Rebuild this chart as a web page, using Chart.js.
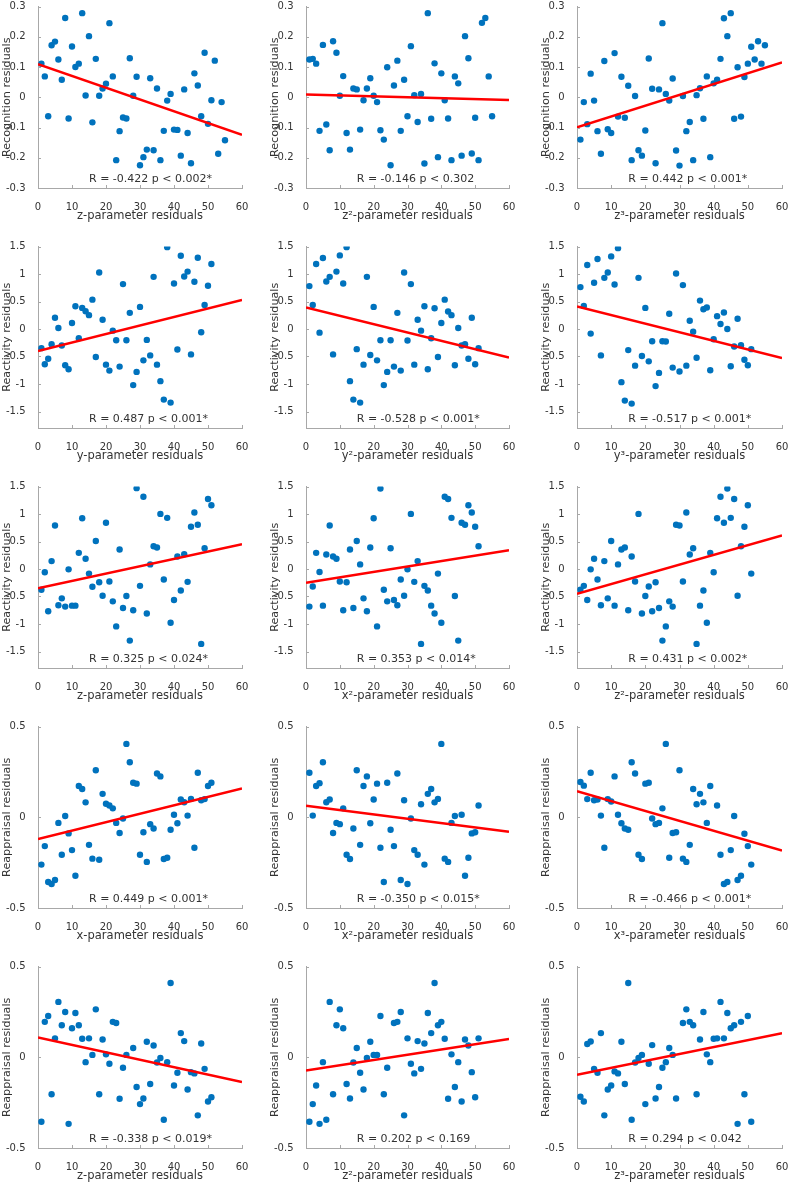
<!DOCTYPE html>
<html>
<head>
<meta charset="utf-8">
<script src="https://cdn.jsdelivr.net/npm/chart.js@4.4.1/dist/chart.umd.min.js"></script>
<style>
  html,body{margin:0;padding:0;background:#fff}
  #wrap{position:relative;width:789px;height:1185px;overflow:hidden}
  #wrap canvas{position:absolute}
</style>
</head>
<body>
<div id="wrap"></div>
<script>
// ---- data ----
const subjects = [1,2,3,4,5,6,7,8,9,10,11,12,13,14,15,16,17,18,19,20,21,22,23,24,25,26,27,28,29,30,
  31,32,33,34,35,36,37,38,39,40,41,42,43,44,45,46,47,48,49,50,51,52,53,54,55];

const xTicks = [0,10,20,30,40,50,60];
const xLim = [0,60];
const yLimRecog = [-0.3,0.3];
const yTicksRecog = [-0.3,-0.2,-0.1,0,0.1,0.2,0.3];
const yLimReact = [-1.8,1.5];
const yTicksReact = [-1.5,-1,-0.5,0,0.5,1,1.5];
const yLimReap = [-0.5,0.5];
const yTicksReap = [-0.5,0,0.5];

// row 1: recognition
const recogZ = [0.111,0.069,-0.063,0.172,0.184,0.125,0.058,0.262,-0.070,0.168,
  0.100,0.111,0.278,0.006,0.202,-0.083,0.127,0.005,0.029,0.045,
  0.245,0.069,-0.208,-0.112,-0.067,-0.070,0.129,0.005,0.068,-0.225,
  -0.198,-0.173,0.063,-0.175,0.029,-0.208,-0.111,-0.011,0.011,-0.107,
  -0.108,-0.193,0.026,-0.118,-0.218,0.079,0.039,-0.063,0.147,-0.088,
  -0.010,0.121,-0.187,-0.016,-0.142];
const recogZ2 = [0.125,0.127,0.111,-0.111,0.173,-0.090,-0.175,0.185,0.147,0.005,
  0.070,-0.118,-0.173,0.029,0.026,-0.107,-0.010,0.029,0.063,0.005,
  -0.016,-0.109,-0.140,0.099,-0.225,0.039,0.121,-0.111,0.058,-0.063,
  0.169,0.007,-0.082,0.011,-0.219,0.278,-0.071,0.112,-0.198,0.079,
  -0.010,-0.070,-0.208,0.069,0.046,-0.193,0.202,0.129,-0.186,-0.068,
  -0.208,0.246,0.262,0.069,-0.063];
const recogZ3 = [-0.140,-0.016,-0.089,0.078,-0.011,-0.112,-0.187,0.120,-0.106,-0.118,
  0.146,-0.064,0.068,-0.068,0.038,-0.208,0.004,-0.175,-0.193,-0.110,
  0.128,0.028,-0.218,0.026,0.245,0.011,-0.011,0.062,-0.176,-0.226,
  0.004,-0.112,-0.082,-0.208,0.007,0.030,-0.071,0.069,-0.198,0.046,
  0.058,0.127,0.261,0.202,0.278,-0.071,0.099,-0.064,0.067,0.111,
  0.167,0.125,0.185,0.111,0.172];

// row 2: reactivity
const reactY = [-0.348,-0.642,-0.540,-0.276,0.204,0.018,-0.300,-0.660,-0.732,0.108,
  0.414,-0.168,0.384,0.324,0.252,0.534,-0.510,1.026,0.168,-0.648,
  -0.756,-0.030,-0.204,-0.684,0.816,-0.204,0.294,-1.020,-0.780,0.402,
  -0.570,-0.198,-0.480,0.948,-0.648,-0.948,-1.284,1.488,-1.338,0.828,
  -0.372,1.332,0.954,1.044,-0.462,0.858,1.296,-0.060,0.438,0.786,
  1.182];
const reactY2 = [0.780,0.438,1.182,-0.066,1.290,0.864,0.948,-0.462,1.044,1.338,
  0.828,1.488,-0.948,-1.284,-0.366,-1.338,-0.648,0.948,-0.474,0.402,
  -0.570,-0.204,-1.020,-0.780,-0.204,-0.684,0.294,-0.756,1.026,-0.210,
  0.816,-0.648,0.168,-0.030,0.414,-0.732,-0.168,0.378,-0.510,0.108,
  0.534,0.318,0.252,-0.660,0.018,-0.300,-0.276,-0.540,0.204,-0.642,
  -0.348];
const reactY3 = [0.762,0.420,1.164,-0.084,0.840,1.272,-0.480,0.930,1.026,1.320,
  0.810,1.470,-0.966,-1.302,-0.384,-1.356,-0.666,0.930,-0.492,0.384,
  -0.588,-0.222,-1.038,-0.798,-0.222,-0.228,0.276,-0.702,1.008,-0.774,
  0.798,-0.666,0.150,-0.048,-0.522,0.516,0.360,0.390,-0.750,-0.186,
  0.234,0.090,0.300,0.000,-0.678,-0.318,0.186,-0.294,-0.558,-0.660,
  -0.366];

// row 3: reactivity
const reactZ = [-0.378,-0.060,-0.768,0.144,0.792,-0.660,-0.534,-0.684,-0.006,-0.666,
  -0.666,0.294,0.924,0.186,-0.084,-0.324,0.510,-0.240,-0.486,0.840,
  -0.228,-0.588,-1.044,0.354,-0.708,-0.492,-1.302,-0.750,1.470,-0.306,
  1.314,-0.810,0.084,0.414,0.390,1.002,-0.192,0.930,-0.978,-0.564,
  0.228,-0.390,0.270,-0.234,0.768,1.026,0.804,-1.362,0.378,1.272,
  1.158];
const reactX2 = [-0.684,-0.318,0.294,-0.054,-0.666,0.264,0.792,0.228,0.186,-0.228,
  -0.750,-0.240,0.354,-0.708,0.510,0.084,-0.534,-0.768,0.390,0.924,
  -1.044,1.464,-0.378,-0.588,0.378,-0.564,-0.660,-0.192,-0.486,-0.006,
  1.002,-0.234,0.144,-1.362,-0.306,-0.390,-0.666,-0.810,-0.084,-0.978,
  1.314,1.272,0.930,-0.492,-1.302,0.840,0.804,1.158,1.026,0.768,
  0.414];
const reactZ2 = [-0.378,-0.306,-0.564,-0.006,0.186,-0.192,-0.660,0.144,-0.534,0.510,
  -0.666,0.084,0.354,0.390,-0.750,0.228,-0.228,1.002,-0.810,-0.492,
  -0.318,-0.768,-0.240,-0.708,-1.302,-1.044,-0.588,-0.684,0.804,0.792,
  -0.228,1.026,0.264,0.378,-1.362,-0.666,-0.390,-0.978,0.294,-0.060,
  0.924,1.314,0.840,1.464,0.930,1.272,-0.486,0.414,0.768,1.158,
  -0.084];

// row 4: reappraisal
const reapX = [-0.261,-0.159,-0.357,-0.368,-0.346,-0.031,-0.207,0.007,-0.089,-0.181,
  -0.322,0.172,0.156,0.082,-0.152,-0.228,0.259,-0.234,0.129,0.074,
  0.065,0.049,-0.031,-0.087,-0.007,0.404,0.303,0.190,0.185,-0.207,
  -0.083,-0.246,-0.038,-0.062,0.241,0.225,-0.230,-0.223,-0.069,0.014,
  -0.033,0.098,0.083,0.009,0.101,-0.168,0.245,0.094,0.100,0.172,
  0.190];
const reapX2 = [0.245,0.009,0.172,0.188,0.303,0.083,0.098,-0.087,-0.031,-0.038,
  0.049,-0.207,-0.230,-0.062,0.259,-0.152,0.172,0.225,-0.033,0.098,
  0.185,-0.168,-0.357,0.190,-0.069,-0.159,0.241,-0.346,0.094,-0.368,
  -0.007,-0.181,-0.207,0.072,-0.261,0.129,0.156,0.082,0.101,0.404,
  -0.228,-0.246,-0.031,0.007,null,0.014,-0.322,-0.223,-0.089,-0.083,
  0.065];
const reapX3 = [0.194,0.174,0.100,0.245,0.094,0.098,0.009,-0.168,0.100,0.087,
  0.225,0.014,-0.033,-0.062,-0.069,0.303,0.241,-0.207,-0.230,0.185,
  0.190,-0.007,-0.038,-0.031,0.049,0.404,-0.223,-0.087,-0.083,0.259,
  -0.228,-0.246,-0.152,0.156,0.072,0.129,0.082,-0.031,0.172,null,
  0.065,-0.207,-0.368,-0.357,-0.181,0.007,-0.346,-0.322,-0.091,-0.159,
  -0.261];

// row 5: reappraisal
const reapZ = [-0.355,0.195,0.227,-0.204,0.104,0.305,0.176,0.249,-0.367,0.160,
  0.244,0.176,0.102,-0.027,0.104,0.013,0.264,-0.204,0.098,0.016,
  -0.036,0.195,0.189,-0.229,-0.058,0.013,null,0.051,-0.164,-0.258,
  -0.227,0.085,-0.147,0.065,-0.029,-0.004,-0.344,-0.027,0.409,-0.156,
  -0.085,0.133,0.089,-0.178,-0.082,-0.089,-0.320,0.076,-0.064,-0.244,
  -0.220];
const reapZ2 = [-0.355,-0.258,-0.156,-0.367,-0.027,-0.344,0.305,-0.204,0.176,0.264,
  0.160,-0.147,-0.227,-0.029,0.051,-0.085,-0.178,-0.004,0.085,0.013,
  0.013,0.227,-0.204,-0.058,null,0.189,0.195,0.249,-0.320,0.104,
  -0.036,-0.089,0.089,-0.064,0.076,0.244,0.133,0.409,0.176,0.195,
  0.102,-0.229,0.016,-0.164,-0.027,-0.244,0.098,0.065,-0.082,-0.220,
  0.104];
const reapZ3 = [-0.218,-0.244,0.073,0.087,-0.064,-0.085,0.133,-0.320,-0.178,-0.156,
  -0.078,-0.089,0.085,-0.147,0.409,-0.344,-0.029,-0.004,0.013,-0.258,
  -0.036,0.067,-0.227,-0.164,-0.058,-0.027,0.051,0.013,-0.227,null,
  0.189,0.264,0.195,0.176,-0.204,0.098,0.249,0.016,-0.027,0.102,
  0.104,0.305,0.104,0.244,0.160,0.176,-0.367,0.195,-0.204,0.227,
  -0.355];

// fitted lines: y at x=0 and at x=60
const fitRecogZ = [0.109,-0.124], fitRecogZ2 = [0.009,-0.009], fitRecogZ3 = [-0.099,0.115];
const fitReactY = [-0.40,0.53], fitReactY2 = [0.39,-0.52], fitReactY3 = [0.41,-0.53];
const fitReactZ = [-0.35,0.45], fitReactX2 = [-0.25,0.34], fitReactZ2 = [-0.45,0.61];
const fitReapX = [-0.12,0.158], fitReapX2 = [0.063,-0.080], fitReapX3 = [0.143,-0.183];
const fitReapZ = [0.109,-0.136], fitReapZ2 = [-0.073,0.100], fitReapZ3 = [-0.096,0.133];

const statText = [
  'R = -0.422 p < 0.002*','R = -0.146 p < 0.302','R = 0.442 p < 0.001*',
  'R = 0.487 p < 0.001*','R = -0.528 p < 0.001*','R = -0.517 p < 0.001*',
  'R = 0.325 p < 0.024*','R = 0.353 p < 0.014*','R = 0.431 p < 0.002*',
  'R = 0.449 p < 0.001*','R = -0.350 p < 0.015*','R = -0.466 p < 0.001*',
  'R = -0.338 p < 0.019*','R = 0.202 p < 0.169','R = 0.294 p < 0.042'
];
const statX = 15;

// ---- layout / style ----
const ROW_T = [4,244,484,724,964];
const COL_L = [38,306,577];
const COL_W = [204,203,205];
const PLOT_H = 184, AXW = 38, XAXH = 36, PADT = 8, PADR = 12;
const FONT = '"DejaVu Sans", Verdana, sans-serif';
const TXT = '#333333', AXIS = '#a8a8a8';
const DOT = '#0072bd', FIT = '#ff0000';

const panels = [
  {ys:recogZ,  fit:fitRecogZ,  xl:'z-parameter residuals',  yl:'Recognition residuals', lim:yLimRecog, ticks:yTicksRecog},
  {ys:recogZ2, fit:fitRecogZ2, xl:'z\u00b2-parameter residuals', yl:'Recognition residuals', lim:yLimRecog, ticks:yTicksRecog},
  {ys:recogZ3, fit:fitRecogZ3, xl:'z\u00b3-parameter residuals', yl:'Recognition residuals', lim:yLimRecog, ticks:yTicksRecog},
  {ys:reactY,  fit:fitReactY,  xl:'y-parameter residuals',  yl:'Reactivity residuals', lim:yLimReact, ticks:yTicksReact},
  {ys:reactY2, fit:fitReactY2, xl:'y\u00b2-parameter residuals', yl:'Reactivity residuals', lim:yLimReact, ticks:yTicksReact},
  {ys:reactY3, fit:fitReactY3, xl:'y\u00b3-parameter residuals', yl:'Reactivity residuals', lim:yLimReact, ticks:yTicksReact},
  {ys:reactZ,  fit:fitReactZ,  xl:'z-parameter residuals',  yl:'Reactivity residuals', lim:yLimReact, ticks:yTicksReact},
  {ys:reactX2, fit:fitReactX2, xl:'x\u00b2-parameter residuals', yl:'Reactivity residuals', lim:yLimReact, ticks:yTicksReact},
  {ys:reactZ2, fit:fitReactZ2, xl:'z\u00b2-parameter residuals', yl:'Reactivity residuals', lim:yLimReact, ticks:yTicksReact},
  {ys:reapX,   fit:fitReapX,   xl:'x-parameter residuals',  yl:'Reappraisal residuals', lim:yLimReap, ticks:yTicksReap},
  {ys:reapX2,  fit:fitReapX2,  xl:'x\u00b2-parameter residuals', yl:'Reappraisal residuals', lim:yLimReap, ticks:yTicksReap},
  {ys:reapX3,  fit:fitReapX3,  xl:'x\u00b3-parameter residuals', yl:'Reappraisal residuals', lim:yLimReap, ticks:yTicksReap},
  {ys:reapZ,   fit:fitReapZ,   xl:'z-parameter residuals',  yl:'Reappraisal residuals', lim:yLimReap, ticks:yTicksReap},
  {ys:reapZ2,  fit:fitReapZ2,  xl:'z\u00b2-parameter residuals', yl:'Reappraisal residuals', lim:yLimReap, ticks:yTicksReap},
  {ys:reapZ3,  fit:fitReapZ3,  xl:'z\u00b3-parameter residuals', yl:'Reappraisal residuals', lim:yLimReap, ticks:yTicksReap}
];

// inward tick marks + R/p text (matlab style)
const axisExtras = {
  id:'axisExtras',
  afterDraw(chart, args, opts){
    const {ctx, chartArea:a, scales:{x, y}} = chart;
    ctx.save();
    ctx.strokeStyle = AXIS;
    ctx.lineWidth = 1;
    ctx.beginPath();
    x.ticks.forEach(t=>{
      const px = Math.round(x.getPixelForValue(t.value)) + 0.5;
      ctx.moveTo(px, a.bottom); ctx.lineTo(px, a.bottom - 3);
    });
    y.ticks.forEach(t=>{
      const py = Math.round(y.getPixelForValue(t.value)) + 0.5;
      ctx.moveTo(a.left, py); ctx.lineTo(a.left + 3, py);
    });
    ctx.stroke();
    ctx.fillStyle = TXT;
    ctx.font = '11px ' + FONT;
    ctx.textAlign = 'left';
    ctx.textBaseline = 'middle';
    ctx.fillText(opts.text, x.getPixelForValue(statX), a.bottom - 8.5);
    ctx.restore();
  }
};

const wrap = document.getElementById('wrap');

panels.forEach((p, i)=>{
  const row = Math.floor(i/3), col = i%3;
  const w = AXW + COL_W[col] + PADR, h = PADT + PLOT_H + XAXH;
  const cv = document.createElement('canvas');
  cv.width = w; cv.height = h;
  cv.style.width = w + 'px'; cv.style.height = h + 'px';
  cv.style.left = (COL_L[col] - AXW) + 'px';
  cv.style.top = (ROW_T[row] - PADT) + 'px';
  wrap.appendChild(cv);

  new Chart(cv, {
    type:'scatter',
    data:{datasets:[
      {type:'line', data:[{x:xLim[0], y:p.fit[0]}, {x:xLim[1], y:p.fit[1]}],
        borderColor:FIT, borderWidth:2.5, pointRadius:0, fill:false, order:0},
      {data:subjects.slice(0, p.ys.length).map((s,k)=>({x:s, y:p.ys[k]})),
        backgroundColor:DOT, borderWidth:0, pointRadius:3.2, order:1}
    ]},
    options:{
      responsive:false,
      animation:false,
      devicePixelRatio:1,
      layout:{padding:{left:0, top:PADT, right:PADR, bottom:0}},
      plugins:{legend:{display:false}, tooltip:{enabled:false}, axisExtras:{text:statText[i]}},
      scales:{
        x:{
          type:'linear', min:xLim[0], max:xLim[1],
          afterBuildTicks:s=>{ s.ticks = xTicks.map(v=>({value:v})); },
          afterFit:s=>{ s.height = XAXH; },
          grid:{display:false},
          border:{display:true, color:AXIS, width:1},
          ticks:{color:TXT, font:{family:FONT, size:10}, padding:5.5, maxRotation:0, autoSkip:false, callback:v=>String(v)},
          title:{display:true, text:p.xl, color:TXT, font:{family:FONT, size:11.5}, padding:{top:0, bottom:1}}
        },
        y:{
          type:'linear', min:p.lim[0], max:p.lim[1],
          afterBuildTicks:s=>{ s.ticks = p.ticks.map(v=>({value:v})); },
          afterFit:s=>{ s.width = AXW; },
          grid:{display:false},
          border:{display:true, color:AXIS, width:1},
          ticks:{color:TXT, font:{family:FONT, size:10}, padding:4.5, autoSkip:false, callback:v=>String(v)},
          title:{display:true, text:p.yl, color:TXT, font:{family:FONT, size:11.2}, padding:{top:0, bottom:0}}
        }
      }
    },
    plugins:[axisExtras]
  });
});
</script>
</body>
</html>
